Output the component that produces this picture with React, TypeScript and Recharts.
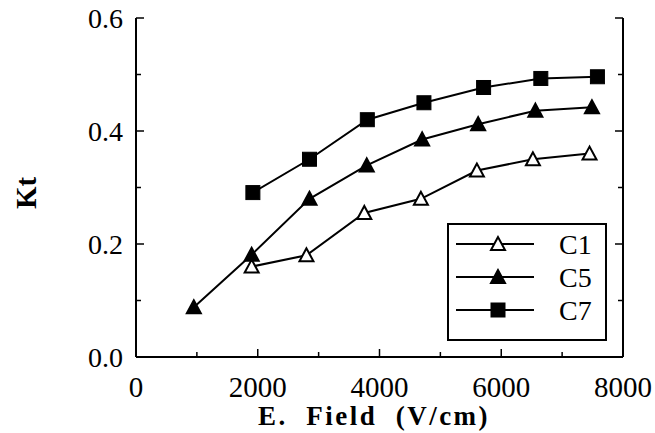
import React from "react";
import { LineChart, Line, XAxis, YAxis, Legend } from "recharts";

// E. Field (V/cm) vs Kt
const c1Field = [1900, 2800, 3750, 4680, 5600, 6520, 7450];
const c1Kt = [0.16, 0.18, 0.255, 0.28, 0.33, 0.35, 0.36];

const c5Field = [950, 1900, 2850, 3790, 4700, 5620, 6560, 7490];
const c5Kt = [0.088, 0.181, 0.28, 0.339, 0.385, 0.412, 0.436, 0.442];

const c7Field = [1920, 2850, 3800, 4730, 5710, 6650, 7580];
const c7Kt = [0.291, 0.35, 0.42, 0.45, 0.477, 0.493, 0.496];

const xTicks = [0, 1000, 2000, 3000, 4000, 5000, 6000, 7000, 8000];
const yTicks = [0, 0.1, 0.2, 0.3, 0.4, 0.5, 0.6];

const toRows = (xs: number[], ys: number[]) =>
  xs.map((x, i) => ({ field: x, kt: ys[i] }));

const series = [
  { name: "C1", data: toRows(c1Field, c1Kt), shape: "triangle", fill: "#fff" },
  { name: "C5", data: toRows(c5Field, c5Kt), shape: "triangle", fill: "#000" },
  { name: "C7", data: toRows(c7Field, c7Kt), shape: "square", fill: "#000" },
];

const FONT = "'Liberation Serif', 'Times New Roman', serif";

const Marker = ({ cx, cy, shape, fill }: any) => {
  if (cx == null || cy == null) return null;
  if (shape === "square") {
    return <rect x={cx - 7} y={cy - 7} width={14} height={14} fill={fill} stroke="#000" strokeWidth={1} />;
  }
  const pts = `${cx},${cy - 7} ${cx - 7},${cy + 6} ${cx + 7},${cy + 6}`;
  return <polygon points={pts} fill={fill} stroke="#000" strokeWidth={2} strokeLinejoin="miter" />;
};

const isMajorX = (v: number) => v % 2000 === 0;
const isMajorY = (v: number) => Math.round(v * 10) % 2 === 0;

const BottomTick = ({ x, y, payload }: any) => {
  const v = payload.value;
  return (
    <g>
      <line x1={x} y1={y} x2={x} y2={y - (isMajorX(v) ? 8 : 5)} stroke="#000" strokeWidth={1.5} />
      {isMajorX(v) && (
        <text x={x} y={y + 40} textAnchor="middle" fontFamily={FONT} fontSize={29} fill="#000">
          {v}
        </text>
      )}
    </g>
  );
};

const TopTick = ({ x, y, payload }: any) => (
  <line x1={x} y1={y} x2={x} y2={y + (isMajorX(payload.value) ? 8 : 5)} stroke="#000" strokeWidth={1.5} />
);

const LeftTick = ({ x, y, payload }: any) => {
  const v = payload.value;
  return (
    <g>
      <line x1={x} y1={y} x2={x + (isMajorY(v) ? 8 : 5)} y2={y} stroke="#000" strokeWidth={1.5} />
      {isMajorY(v) && (
        <text x={x - 13} y={y + 10} textAnchor="end" fontFamily={FONT} fontSize={28} fill="#000">
          {v.toFixed(1)}
        </text>
      )}
    </g>
  );
};

const RightTick = ({ x, y, payload }: any) => (
  <line x1={x} y1={y} x2={x - (isMajorY(payload.value) ? 8 : 5)} y2={y} stroke="#000" strokeWidth={1.5} />
);

const LegendBox = () => (
  <svg width={160} height={118} style={{ display: "block" }}>
    <rect x={1} y={1} width={158} height={116} fill="#fff" stroke="#000" strokeWidth={2} />
    {series.map((s, i) => {
      const cy = 21 + i * 33;
      return (
        <g key={s.name}>
          <line x1={9} y1={cy} x2={87} y2={cy} stroke="#000" strokeWidth={2} />
          <Marker cx={51} cy={cy} shape={s.shape} fill={s.fill} />
          <text x={112} y={cy + 10} fontFamily={FONT} fontSize={28} fill="#000">
            {s.name}
          </text>
        </g>
      );
    })}
  </svg>
);

export default function App() {
  return (
    <div style={{ position: "absolute", left: 0, top: 0, background: "#fff" }}>
      <LineChart width={655} height={433} margin={{ top: 18, right: 0, bottom: 0, left: 0 }}>
        <XAxis
          dataKey="field"
          type="number"
          domain={[0, 8000]}
          ticks={xTicks}
          interval={0}
          height={76}
          tickSize={0}
          tickMargin={0}
          tick={<BottomTick />}
          axisLine={{ stroke: "#000", strokeWidth: 2 }}
          allowDataOverflow
        />
        <XAxis
          xAxisId="top"
          orientation="top"
          type="number"
          domain={[0, 8000]}
          ticks={xTicks}
          interval={0}
          height={0}
          tickSize={0}
          tickMargin={0}
          tick={<TopTick />}
          axisLine={{ stroke: "#000", strokeWidth: 2 }}
          allowDataOverflow
        />
        <YAxis
          type="number"
          domain={[0, 0.6]}
          ticks={yTicks}
          interval={0}
          width={136}
          tickSize={0}
          tickMargin={0}
          tick={<LeftTick />}
          axisLine={{ stroke: "#000", strokeWidth: 2 }}
          allowDataOverflow
        />
        <YAxis
          yAxisId="right"
          orientation="right"
          type="number"
          domain={[0, 0.6]}
          ticks={yTicks}
          interval={0}
          width={32}
          tickSize={0}
          tickMargin={0}
          tick={<RightTick />}
          axisLine={{ stroke: "#000", strokeWidth: 2 }}
          allowDataOverflow
        />
        {series.map((s) => (
          <Line
            key={s.name}
            data={s.data}
            dataKey="kt"
            name={s.name}
            stroke="#000"
            strokeWidth={2}
            isAnimationActive={false}
            dot={(p: any) => <Marker key={`${s.name}-${p.index}`} cx={p.cx} cy={p.cy} shape={s.shape} fill={s.fill} />}
            activeDot={false}
          />
        ))}
        <Legend
          layout="vertical"
          align="center"
          verticalAlign="middle"
          wrapperStyle={{ left: 447, top: 223, width: 160, height: 118 }}
          content={() => <LegendBox />}
        />
        <text
          x={26}
          y={193}
          transform="rotate(-90 26 193)"
          textAnchor="middle"
          dominantBaseline="central"
          fontFamily={FONT}
          fontWeight="bold"
          fontSize={29}
          fill="#000"
        >
          Kt
        </text>
        <text
          x={374}
          y={425}
          textAnchor="middle"
          fontFamily={FONT}
          fontWeight="bold"
          fontSize={27}
          letterSpacing={2.5}
          fill="#000"
          style={{ whiteSpace: "pre" }}
        >
          {"E.  Field  (V/cm)"}
        </text>
      </LineChart>
    </div>
  );
}
